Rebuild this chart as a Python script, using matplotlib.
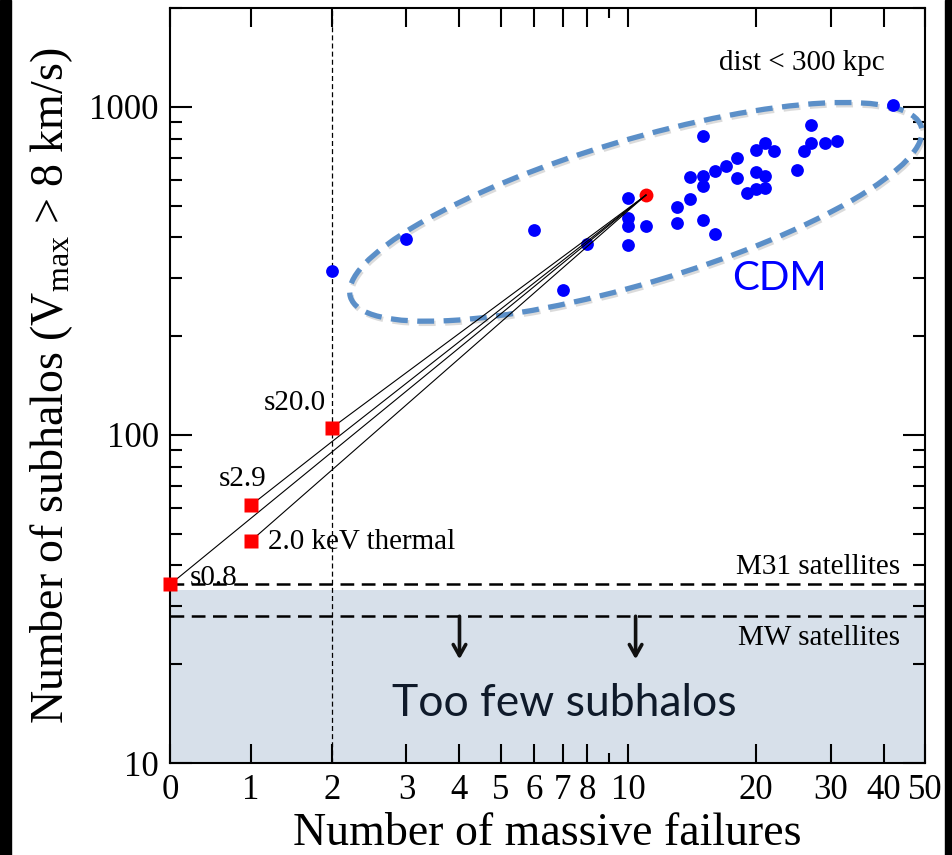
import matplotlib.pyplot as plt
from matplotlib.patches import Ellipse, Rectangle
from matplotlib.ticker import FixedLocator, NullFormatter

plt.rcParams['font.family'] = 'serif'
plt.rcParams['font.serif'] = ['Liberation Serif']
plt.rcParams['mathtext.fontset'] = 'custom'
plt.rcParams['mathtext.rm'] = 'Liberation Serif'
plt.rcParams['mathtext.it'] = 'Liberation Serif:italic'

# CDM haloes: number of massive failures vs number of subhalos
cdm_x = [2, 3, 6, 7, 8, 10, 10, 10, 10, 11, 13, 13, 14, 14, 15, 15, 15, 15, 16, 16,
         17, 18, 18, 19, 20, 20, 20, 21, 21, 21, 22, 25, 26, 27, 27, 29, 31, 42]
cdm_y = [316, 394, 420, 277, 382, 528, 459, 433, 380, 433, 494, 441, 525, 612, 813, 614, 573, 451, 410, 636,
         659, 699, 608, 547, 738, 632, 560, 773, 614, 566, 732, 641, 732, 877, 776, 773, 784, 1010]

# reference CDM halo that the WDM runs were resimulated from
ref_x = 11
ref_y = 538

# WDM resimulations
wdm_x = [0, 1, 1, 2]
wdm_y = [35, 61, 47.5, 105]
wdm_labels = ['s0.8', 's2.9', '2.0 keV thermal', 's20.0']
wdm_offsets = [(14, 5), (-6, 19), (12, -1), (-4, 18)]
wdm_ha = ['left', 'center', 'left', 'right']

m31_count = 35
mw_count = 28

xticks = [0, 1, 2, 3, 4, 5, 6, 7, 8, 10, 20, 30, 40, 50]
yticks = [10, 100, 1000]

fig = plt.figure(figsize=(9.52, 8.55), dpi=100)
ax = fig.add_axes([170 / 952, 1 - 763 / 855, 755 / 952, 755 / 855])

ax.set_xscale('symlog', linthresh=2, linscale=0.343)
ax.set_yscale('log')
ax.set_xlim(0, 50)
ax.set_ylim(10, 2000)

# "too few subhalos" region
ax.axhspan(10, 33.7, color='#d7e0ea', zorder=0, lw=0)
ax.axvline(2, color='k', lw=0.9, ls=(0, (4, 2.5)), zorder=1)
ax.axhline(m31_count, color='k', lw=1.8, ls=(0, (5.5, 3)), zorder=1)
ax.axhline(mw_count, color='k', lw=1.8, ls=(0, (5.5, 3)), zorder=1)

ax.plot(cdm_x, cdm_y, 'o', ms=9.2, color='#0000ff', mec='none', zorder=3)
ax.plot(ref_x, ref_y, 'o', ms=10, color='red', mec='none', zorder=3)
for x0, y0 in zip(wdm_x, wdm_y):
    ax.plot([x0, ref_x], [y0, ref_y], color='k', lw=0.8, zorder=4)
ax.plot(wdm_x, wdm_y, 's', ms=10.5, color='red', mec='none', clip_on=False, zorder=5)

for x0, y0, lab, off, ha in zip(wdm_x, wdm_y, wdm_labels, wdm_offsets, wdm_ha):
    ax.annotate(lab, (x0, y0), xytext=off, textcoords='offset points',
                ha=ha, va='center', fontsize=21, zorder=6)

ax.text(0.947, 0.927, 'dist < 300 kpc', transform=ax.transAxes, ha='right', va='center', fontsize=21)
ax.text(0.967, 0.260, 'M31 satellites', transform=ax.transAxes, ha='right', va='center', fontsize=21)
ax.text(0.967, 0.165, 'MW satellites', transform=ax.transAxes, ha='right', va='center', fontsize=21)

# CDM ellipse (drawn in axes coords, the axes box is square)
shadow = Ellipse((0.619, 0.727), 0.789, 0.19, angle=16.6, transform=ax.transAxes,
                 fill=False, ec='#999999', lw=3.8, ls=(0, (3.2, 1.8)), alpha=0.35, zorder=2)
ell = Ellipse((0.617, 0.730), 0.789, 0.19, angle=16.6, transform=ax.transAxes,
              fill=False, ec='#5b8fc8', lw=3.8, ls=(0, (3.2, 1.8)), zorder=2)
ax.add_patch(shadow)
ax.add_patch(ell)
ax.text(0.807, 0.642, 'CDM', transform=ax.transAxes, ha='center', va='center',
        fontsize=29, color='#0000ff', family='Lato')

for xa in [4, 10.4]:
    ax.annotate('', xy=(xa, 20.7), xytext=(xa, mw_count),
                arrowprops=dict(arrowstyle='->,head_length=0.8,head_width=0.45',
                                color='#111111', lw=2.6, shrinkA=0, shrinkB=0))
ax.text(0.522, 0.079, 'Too few subhalos', transform=ax.transAxes, ha='center', va='center',
        fontsize=32, color='#0f1a2a', family='Lato')

ax.set_xticks(xticks)
ax.set_xticklabels([str(t) for t in xticks])
ax.xaxis.set_minor_locator(FixedLocator([9]))
ax.xaxis.set_minor_formatter(NullFormatter())
ax.set_yticks(yticks)
ax.set_yticklabels([str(t) for t in yticks])
ax.yaxis.set_minor_formatter(NullFormatter())

ax.tick_params(which='both', direction='in', top=True, right=True, width=1.5, labelsize=25, pad=8)
ax.tick_params(axis='x', which='major', length=14)
ax.tick_params(axis='x', which='minor', length=7)
ax.tick_params(axis='y', which='major', length=16)
ax.tick_params(axis='y', which='minor', length=8.5)
for sp in ax.spines.values():
    sp.set_linewidth(1.5)

ax.set_xlabel('Number of massive failures', fontsize=33, labelpad=4)
ax.set_ylabel(r'Number of subhalos (V$_{\rm max}$ > 8 km/s)', fontsize=33, labelpad=10)

# black side strips of the slide
fig.patches.append(Rectangle((0, 0), 11 / 952, 1, transform=fig.transFigure, color='black'))
fig.patches.append(Rectangle((945 / 952, 0), 7 / 952, 1, transform=fig.transFigure, color='black'))

fig.savefig('out.png', dpi=100)
